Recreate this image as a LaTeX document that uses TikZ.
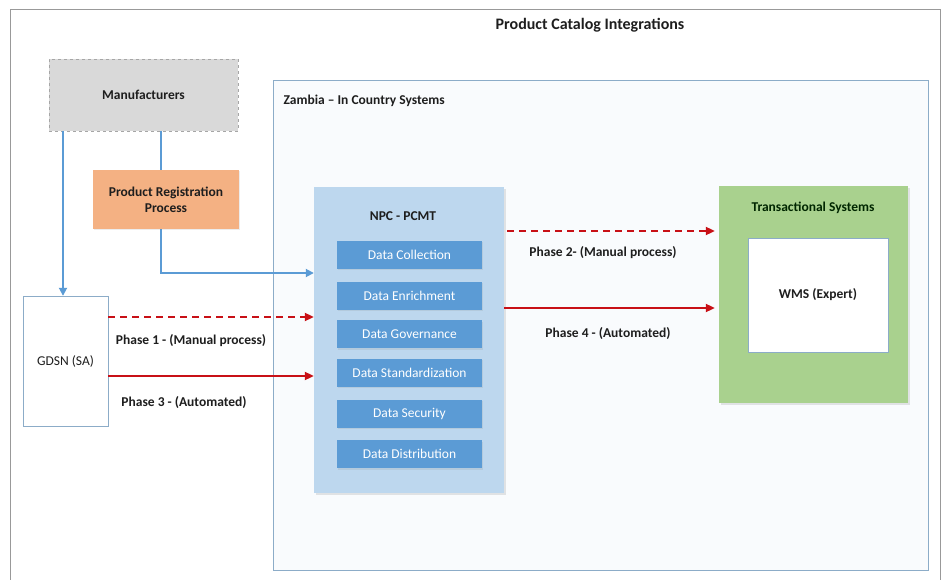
\documentclass[tikz,border=0pt]{standalone}
\usepackage{fontspec}
\setmainfont{Carlito}
\usetikzlibrary{arrows.meta,shadows}
\definecolor{bline}{RGB}{91,155,213}
\definecolor{rline}{RGB}{200,16,22}
\definecolor{npcfill}{RGB}{189,215,238}
\definecolor{datafill}{RGB}{91,155,213}
\definecolor{grn}{RGB}{169,209,142}
\definecolor{orng}{RGB}{244,177,131}
\definecolor{mgray}{RGB}{217,217,217}
\definecolor{zborder}{RGB}{140,172,200}
\definecolor{zfill}{RGB}{249,251,253}
\definecolor{txt}{RGB}{30,30,30}
\tikzset{
  box/.style={draw, rectangle, inner sep=2pt, align=center, font=\bfseries\fontsize{13.5}{16}\selectfont, text=txt},
  databox/.style={rectangle, fill=datafill, text=white, minimum width=145pt, minimum height=28pt,
     font=\fontsize{13.5}{16}\selectfont, drop shadow={opacity=0.15, shadow xshift=1pt, shadow yshift=-1.5pt}},
  bluearrow/.style={draw=bline, line width=1.8pt, -{Triangle[length=8pt,width=8pt]}},
  redarrow/.style={draw=rline, line width=2pt, -{Triangle[length=9pt,width=8pt]}},
  lbl/.style={font=\bfseries\fontsize{13.5}{16}\selectfont, text=txt},
}
\begin{document}
\begin{tikzpicture}[x=1pt,y=-1pt]
\useasboundingbox (0,0) rectangle (942,580);
\fill[white] (0,0) rectangle (942,580);
% outer frame
\draw[gray!80, line width=0.8pt] (10,582) -- (10,9) -- (940,9) -- (940,582);
% title
\node[lbl, font=\bfseries\fontsize{16}{18}\selectfont] (title) at (590,25) {Product Catalog Integrations};
% Zambia container
\node[draw=zborder, fill=zfill, line width=0.8pt, minimum width=655pt, minimum height=490pt, inner sep=0pt] (zam) at (600.5,325) {};
\node[lbl, anchor=west] (zamlbl) at (280,101) {Zambia – In Country Systems};
% manufacturers
\node[box, draw=gray!70, dashed, fill=mgray, minimum width=189pt, minimum height=72pt] (mfr) at (143.5,95) {Manufacturers};
% coordinates for connectors
\coordinate (mx) at (63,0);
\coordinate (px) at (161,0);
\coordinate (bj) at (0,273);
\coordinate (p1) at (0,317);
\coordinate (p3) at (0,376);
\coordinate (p2) at (0,231);
\coordinate (p4) at (0,308);
% GDSN
\node[box, draw=zborder, fill=white, font=\fontsize{13.5}{16}\selectfont, minimum width=85pt, minimum height=130pt] (gdsn) at (65.5,361) {GDSN (SA)};
% NPC
\node[rectangle, fill=npcfill, minimum width=190pt, minimum height=306pt, drop shadow={opacity=0.2, shadow xshift=1.5pt, shadow yshift=-2pt}] (npc) at (409,340) {};
\node[lbl] (npct) at (403,216) {NPC - PCMT};
\node[databox] (d1) at (409.5,254.5) {Data Collection};
\node[databox] (d2) at (409.5,295.5) {Data Enrichment};
\node[databox] (d3) at (409.5,334) {Data Governance};
\node[databox] (d4) at (409.5,372.5) {Data Standardization};
\node[databox] (d5) at (409.5,413.5) {Data Security};
\node[databox] (d6) at (409.5,454) {Data Distribution};
% blue connectors
\draw[bluearrow] (mfr.south -| mx) -- (gdsn.north -| mx);
\draw[bluearrow] (mfr.south -| px) |- (npc.west |- bj);
% PRP (drawn over the line)
\node[box, draw=none, fill=orng, minimum width=146pt, minimum height=59pt, drop shadow={opacity=0.15, shadow xshift=1pt, shadow yshift=-1pt}] (prp) at (166,199.5) {Product Registration\\Process};
% Transactional
\node[rectangle, fill=grn, minimum width=189pt, minimum height=217pt, drop shadow={opacity=0.2, shadow xshift=1.5pt, shadow yshift=-2pt}] (trs) at (813.5,294.5) {};
\node[lbl, text=black!85!green] (trst) at (813,208) {Transactional Systems};
\node[box, draw=zborder, fill=white, line width=0.6pt, minimum width=140pt, minimum height=114pt] (wms) at (818,295) {WMS (Expert)};
% red connectors
\draw[redarrow, dash pattern=on 7pt off 5pt] (gdsn.east |- p1) -- (npc.west |- p1);
\draw[redarrow] (gdsn.east |- p3) -- (npc.west |- p3);
\draw[redarrow, dash pattern=on 7pt off 5pt, shorten >=4pt, shorten <=3pt] (npc.east |- p2) -- (trs.west |- p2);
\draw[redarrow, shorten >=4pt] (npc.east |- p4) -- (trs.west |- p4);
% labels
\node[lbl] (l1) at (191,341) {Phase 1 - (Manual process)};
\node[lbl] (l3) at (184,403) {Phase 3 - (Automated)};
\node[lbl] (l2) at (603,253) {Phase 2- (Manual process)};
\node[lbl] (l4) at (608,334) {Phase 4 - (Automated)};
\end{tikzpicture}
\end{document}
